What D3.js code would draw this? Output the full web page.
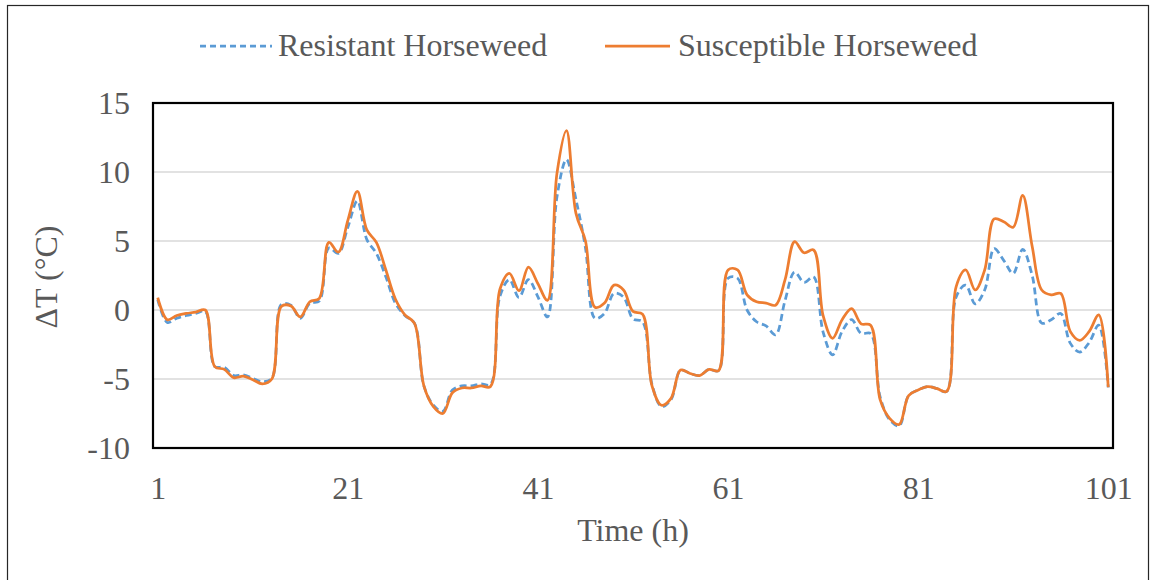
<!DOCTYPE html>
<html>
<head>
<meta charset="utf-8">
<script src="https://cdn.jsdelivr.net/npm/d3@7"></script>
<style>
  html, body { margin: 0; padding: 0; background: #fff; }
  svg { display: block; }
  text { font-family: "Liberation Serif", "Times New Roman", serif; fill: #595959; }
</style>
</head>
<body>
<svg id="chart" width="1156" height="580"></svg>
<script>
// Hourly canopy-air temperature difference for two horseweed biotypes
const hours = d3.range(1, 102);

const resistant = [
  0.75, -0.9, -0.6, -0.4, -0.25, -0.1, -4.1, -4.15, -4.75, -4.7,
  -4.95, -5.2, -4.95, 0.4, 0.35, -0.6, 0.5, 0.65, 4.5, 4.1,
  6.0, 7.9, 5.1, 4.1, 2.4, 0.5, -0.4, -0.95, -5.5, -6.9,
  -7.35, -5.8, -5.5, -5.5, -5.35, -5.4, 1.0, 2.2, 0.9, 2.2,
  0.95, -0.5, 8.2, 10.9, 8.0, 4.5, -0.6, -0.25, 1.2, 0.95,
  -0.65, -0.85, -5.4, -7.0, -6.5, -4.35, -4.6, -4.75, -4.3, -4.4,
  2.3, 2.3, 0.0, -0.85, -1.15, -1.8, 0.7, 2.75, 2.0, 2.4,
  -1.6, -3.25, -1.55, -0.7, -1.7, -1.7, -6.3, -7.95, -8.4, -6.2,
  -5.8, -5.55, -5.7, -5.9, 0.95, 1.8, 0.45, 1.45, 4.45, 3.6,
  2.65, 4.4, 2.5, -0.95, -0.7, -0.25, -2.4, -3.05, -2.35, -1.1,
  -5.6
];

const susceptible = [
  0.9, -0.7, -0.4, -0.25, -0.15, 0.0, -4.1, -4.3, -4.9, -4.8,
  -5.05, -5.35, -5.0, 0.25, 0.3, -0.5, 0.6, 0.85, 4.9, 4.2,
  6.5, 8.6, 5.8, 4.9, 2.9, 0.8, -0.35, -0.95, -5.5, -7.0,
  -7.5, -6.0, -5.65, -5.65, -5.5, -5.55, 1.5, 2.65, 1.4, 3.1,
  1.9, 0.7, 9.9, 13.0, 7.0, 5.0, 0.2, 0.5, 1.8, 1.45,
  -0.1, -0.3, -5.5, -6.9, -6.4, -4.35, -4.6, -4.75, -4.3, -4.4,
  2.9, 2.9, 1.1, 0.6, 0.5, 0.35, 2.2, 4.95, 4.15, 4.35,
  -0.4, -2.05, -0.7, 0.1, -1.0, -1.1, -6.5, -7.85, -8.3, -6.2,
  -5.8, -5.55, -5.7, -5.9, 1.7, 2.9, 1.45, 2.9, 6.6, 6.4,
  6.0, 8.3, 4.6, 1.45, 1.1, 1.2, -1.55, -2.2, -1.55, -0.35,
  -5.6
];

const xTicks = [1, 21, 41, 61, 81, 101];
const yTicks = [-10, -5, 0, 5, 10, 15];

const seriesNames = ["Resistant Horseweed", "Susceptible Horseweed"];
const seriesColors = ["#5B9BD5", "#ED7D31"];

const FONT = "32px";
const svg = d3.select("#chart");
const plot = { left: 153, right: 1113, top: 103, bottom: 448 };

// outer frame of the chart
svg.append("rect")
  .attr("x", 7.5).attr("y", 5.5)
  .attr("width", 1141).attr("height", 640)
  .attr("fill", "none").attr("stroke", "#262626").attr("stroke-width", 1.2);

const x = d3.scalePoint().domain(hours).range([plot.left, plot.right]).padding(0.5);
const y = d3.scaleLinear().domain([-10, 15]).range([plot.bottom, plot.top]);

// horizontal gridlines
svg.append("g")
  .selectAll("line")
  .data(yTicks.filter(v => v > -10 && v < 15))
  .join("line")
  .attr("x1", plot.left).attr("x2", plot.right)
  .attr("y1", d => y(d)).attr("y2", d => y(d))
  .attr("stroke", "#D9D9D9").attr("stroke-width", 1.5);

// y axis labels (plain hyphen for negatives)
const yAxis = svg.append("g")
  .attr("transform", `translate(${plot.left},0)`)
  .call(d3.axisLeft(y).tickValues(yTicks).tickSize(0).tickPadding(23)
    .tickFormat(d => String(d)));
yAxis.select(".domain").remove();
yAxis.selectAll("text")
  .style("font-family", '"Liberation Serif", serif')
  .style("font-size", FONT).attr("fill", "#595959");

// x axis labels
const xAxis = svg.append("g")
  .attr("transform", `translate(0,${plot.bottom})`)
  .call(d3.axisBottom(x).tickValues(xTicks).tickSize(0).tickPadding(28));
xAxis.select(".domain").remove();
xAxis.selectAll("text")
  .style("font-family", '"Liberation Serif", serif')
  .style("font-size", FONT).attr("fill", "#595959");

// axis titles
svg.append("text")
  .attr("x", (plot.left + plot.right) / 2).attr("y", 541)
  .attr("text-anchor", "middle").style("font-size", FONT)
  .text("Time (h)");

svg.append("text")
  .attr("transform", "translate(57,277) rotate(-90)")
  .attr("text-anchor", "middle").style("font-size", FONT)
  .text("ΔT (°C)");

// series lines
const line = d3.line()
  .x((d, i) => x(hours[i]))
  .y(d => y(d))
  .curve(d3.curveCatmullRom.alpha(0.5));

svg.append("path")
  .datum(resistant)
  .attr("d", line)
  .attr("fill", "none")
  .attr("stroke", seriesColors[0])
  .attr("stroke-width", 2.75)
  .attr("stroke-dasharray", "7,4");

svg.append("path")
  .datum(susceptible)
  .attr("d", line)
  .attr("fill", "none")
  .attr("stroke", seriesColors[1])
  .attr("stroke-width", 2.75)
  .attr("stroke-linejoin", "round");

// plot area frame
svg.append("rect")
  .attr("x", plot.left).attr("y", plot.top)
  .attr("width", plot.right - plot.left).attr("height", plot.bottom - plot.top)
  .attr("fill", "none").attr("stroke", "#000").attr("stroke-width", 2.2);

// legend
const legend = [
  { name: seriesNames[0], color: seriesColors[0], dash: "6,4", x1: 200, x2: 272, tx: 278 },
  { name: seriesNames[1], color: seriesColors[1], dash: null, x1: 605, x2: 670, tx: 678 }
];
const lg = svg.append("g");
legend.forEach(d => {
  lg.append("line")
    .attr("x1", d.x1).attr("x2", d.x2).attr("y1", 46).attr("y2", 46)
    .attr("stroke", d.color).attr("stroke-width", 2.75)
    .attr("stroke-dasharray", d.dash);
  lg.append("text")
    .attr("x", d.tx).attr("y", 56)
    .style("font-size", FONT)
    .text(d.name);
});
</script>
</body>
</html>
